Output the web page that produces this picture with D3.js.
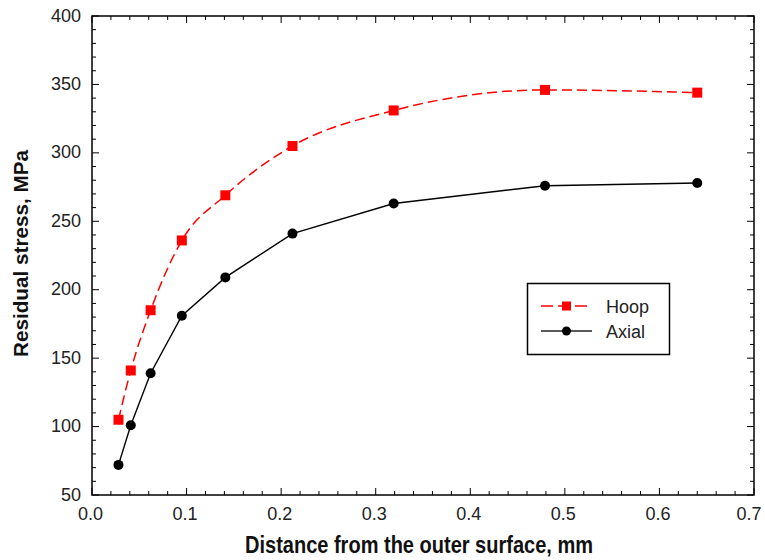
<!DOCTYPE html>
<html>
<head>
<meta charset="utf-8">
<script src="https://cdn.jsdelivr.net/npm/d3@7"></script>
<style>
  body { margin: 0; background: #fff; }
  svg text { font-family: "Liberation Sans", Arial, sans-serif; }
</style>
</head>
<body>
<div id="chart"></div>
<script>
// dati
const distance = [0.028, 0.041, 0.062, 0.095, 0.141, 0.212, 0.319, 0.479, 0.640];
const hoop     = [105, 141, 185, 236, 269, 305, 331, 346, 344];
const axial    = [72, 101, 139, 181, 209, 241, 263, 276, 278];
const xTicks = [0, 0.1, 0.2, 0.3, 0.4, 0.5, 0.6, 0.7];
const yTicks = [50, 100, 150, 200, 250, 300, 350, 400];

const W = 765, H = 560;
const plot = { left: 92, right: 754, top: 16, bottom: 495 };

const x = d3.scaleLinear().domain([0, 0.7]).range([plot.left, plot.right]);
const y = d3.scaleLinear().domain([50, 400]).range([plot.bottom, plot.top]);

const svg = d3.select('#chart').append('svg')
  .attr('width', W).attr('height', H);

// tacche (verso l'interno, su tutti i lati)
const xMinor = d3.range(0, 0.7001, 0.02);
const yMinor = d3.range(50, 400.1, 10);
const tk = svg.append('g').attr('stroke', '#000').attr('stroke-width', 1);
xMinor.forEach(v => {
  const major = Math.abs(v * 10 - Math.round(v * 10)) < 1e-6;
  const len = major ? 7 : 4;
  tk.append('line').attr('x1', x(v)).attr('x2', x(v)).attr('y1', plot.bottom).attr('y2', plot.bottom - len);
  tk.append('line').attr('x1', x(v)).attr('x2', x(v)).attr('y1', plot.top).attr('y2', plot.top + len);
});
yMinor.forEach(v => {
  const major = Math.round(v) % 50 === 0;
  const len = major ? 7 : 4;
  tk.append('line').attr('y1', y(v)).attr('y2', y(v)).attr('x1', plot.left).attr('x2', plot.left + len);
  tk.append('line').attr('y1', y(v)).attr('y2', y(v)).attr('x1', plot.right).attr('x2', plot.right - len);
});

// cornice
svg.append('rect')
  .attr('x', plot.left).attr('y', plot.top)
  .attr('width', plot.right - plot.left).attr('height', plot.bottom - plot.top)
  .attr('fill', 'none').attr('stroke', '#000').attr('stroke-width', 1.5);

// etichette assi (l'ultima resta dentro la finestra)
svg.append('g').selectAll('text').data(xTicks).enter().append('text')
  .attr('x', d => Math.min(x(d) - 1.5, W - 16)).attr('y', plot.bottom + 24.5)
  .attr('text-anchor', 'middle').attr('font-size', 18).attr('fill', '#222')
  .text(d => d.toFixed(1));
svg.append('g').selectAll('text').data(yTicks).enter().append('text')
  .attr('x', plot.left - 11).attr('y', d => y(d) + 5.5)
  .attr('text-anchor', 'end').attr('font-size', 18).attr('fill', '#222')
  .text(d => d);

// titoli (font un po' stretto come nell'originale)
svg.append('text')
  .attr('x', 245).attr('y', 553)
  .attr('font-size', 24).attr('font-weight', 'bold')
  .attr('textLength', 348).attr('lengthAdjust', 'spacingAndGlyphs')
  .attr('fill', '#111')
  .text('Distance from the outer surface, mm');
svg.append('text')
  .attr('transform', 'translate(28, 357) rotate(-90)')
  .attr('font-size', 21).attr('font-weight', 'bold')
  .attr('textLength', 207).attr('lengthAdjust', 'spacingAndGlyphs')
  .attr('fill', '#111')
  .text('Residual stress, MPa');

// serie
const hoopPts = distance.map((d, i) => [d, hoop[i]]);
const axialPts = distance.map((d, i) => [d, axial[i]]);

const smooth = d3.line().x(d => x(d[0])).y(d => y(d[1])).curve(d3.curveMonotoneX);
const straight = d3.line().x(d => x(d[0])).y(d => y(d[1]));

svg.append('path').datum(hoopPts).attr('d', smooth)
  .attr('fill', 'none').attr('stroke', '#ff0000').attr('stroke-width', 1.5)
  .attr('stroke-dasharray', '10,5');
svg.append('path').datum(axialPts).attr('d', straight)
  .attr('fill', 'none').attr('stroke', '#000').attr('stroke-width', 1.4);

svg.append('g').selectAll('rect').data(hoopPts).enter().append('rect')
  .attr('x', d => x(d[0]) - 5).attr('y', d => y(d[1]) - 5)
  .attr('width', 10).attr('height', 10).attr('fill', '#ff0000');
svg.append('g').selectAll('circle').data(axialPts).enter().append('circle')
  .attr('cx', d => x(d[0])).attr('cy', d => y(d[1])).attr('r', 5).attr('fill', '#000');

// legenda
const lg = svg.append('g');
lg.append('rect').attr('x', 527.5).attr('y', 283.5).attr('width', 142).attr('height', 71)
  .attr('fill', '#fff').attr('stroke', '#000').attr('stroke-width', 1.5);
lg.append('line').attr('x1', 541).attr('x2', 592).attr('y1', 306).attr('y2', 306)
  .attr('stroke', '#ff0000').attr('stroke-width', 1.5).attr('stroke-dasharray', '12,5');
lg.append('rect').attr('x', 562).attr('y', 301.5).attr('width', 9).attr('height', 9).attr('fill', '#ff0000');
lg.append('line').attr('x1', 541).attr('x2', 592).attr('y1', 331).attr('y2', 331)
  .attr('stroke', '#222').attr('stroke-width', 1.5);
lg.append('circle').attr('cx', 566.5).attr('cy', 331).attr('r', 4.5).attr('fill', '#000');
lg.append('text').attr('x', 606).attr('y', 312.5).attr('font-size', 18).attr('fill', '#222').text('Hoop');
lg.append('text').attr('x', 606).attr('y', 337.5).attr('font-size', 18).attr('fill', '#222').text('Axial');
</script>
</body>
</html>
